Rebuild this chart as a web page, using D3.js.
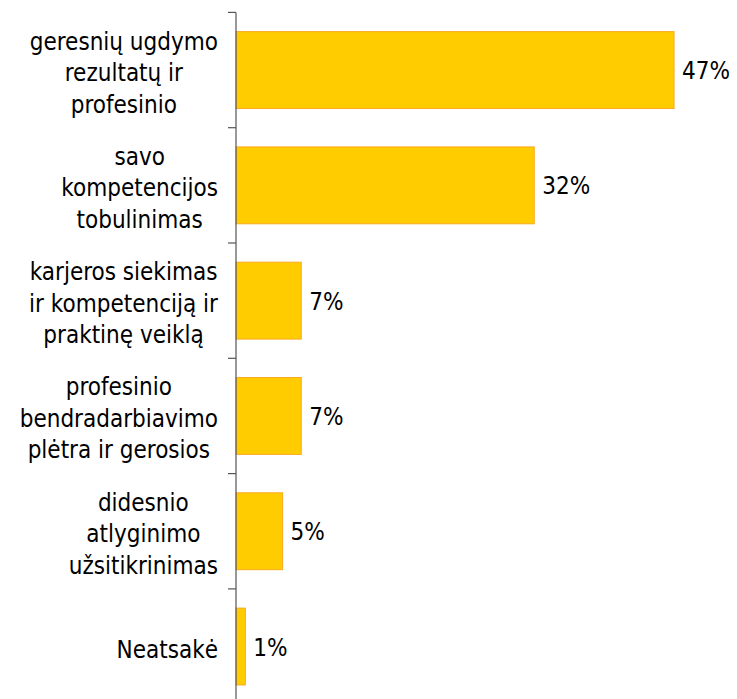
<!DOCTYPE html>
<html>
<head>
<meta charset="utf-8">
<script src="https://cdn.jsdelivr.net/npm/d3@7/dist/d3.min.js"></script>
<style>
  html, body { margin: 0; padding: 0; background: #fff; }
  svg { display: block; }
  text { font-family: "DejaVu Sans Condensed", "DejaVu Sans", sans-serif; font-stretch: condensed; fill: #000; }
</style>
</head>
<body>
<svg id="chart" width="737" height="699"></svg>
<script>
// Category labels, one entry per wrapped line
const categories = [
  ["geresnių ugdymo", "rezultatų ir", "profesinio"],
  ["savo", "kompetencijos", "tobulinimas"],
  ["karjeros siekimas", "ir kompetenciją ir", "praktinę veiklą"],
  ["profesinio", "bendradarbiavimo", "plėtra ir gerosios"],
  ["didesnio", "atlyginimo", "užsitikrinimas"],
  ["Neatsakė"]
];
// Share of respondents, %
const values = [47, 32, 7, 7, 5, 1];

const svg = d3.select("#chart");
const left = 236;
const labelRight = 218;
const fontSize = 24;
const lineGap = 31.5;

const keys = categories.map((c, i) => i);

const y = d3.scaleBand()
  .domain(keys)
  .range([12.4, 704.2])
  .paddingInner(1 / 3)
  .paddingOuter(1 / 6);

const x = d3.scaleLinear()
  .domain([0, 50])
  .range([left, left + 466]);

// Bars
svg.append("g")
  .selectAll("rect")
  .data(values)
  .join("rect")
  .attr("x", x(0))
  .attr("y", (d, i) => y(i))
  .attr("width", d => x(d) - x(0))
  .attr("height", y.bandwidth())
  .attr("fill", "#FFCC00")
  .attr("stroke", "#F9A91E")
  .attr("stroke-width", 1);

// Category axis: vertical line with ticks at band boundaries
const axis = svg.append("g").attr("stroke", "#555").attr("stroke-width", 1.2);
const boundaries = keys.map(k => y(k) - y.step() * y.paddingInner() / 2);
boundaries.push(boundaries[boundaries.length - 1] + y.step());
axis.append("line")
  .attr("x1", left).attr("x2", left)
  .attr("y1", boundaries[0]).attr("y2", boundaries[boundaries.length - 1]);
axis.selectAll("line.tick")
  .data(boundaries)
  .join("line")
  .attr("class", "tick")
  .attr("x1", left - 8).attr("x2", left)
  .attr("y1", d => d).attr("y2", d => d);

// Category labels: each block sits against the axis, lines centred within it
const labels = svg.append("g");
categories.forEach((lines, i) => {
  const cy = y(i) + y.bandwidth() / 2;
  const n = lines.length;
  const t = labels.append("text")
    .attr("text-anchor", "middle")
    .attr("font-size", fontSize);
  const spans = lines.map((ln, j) => t.append("tspan")
    .attr("y", cy + (j - (n - 1) / 2) * lineGap + 11)
    .text(ln));
  const maxW = d3.max(spans, s => s.node().getComputedTextLength());
  spans.forEach(s => s.attr("x", labelRight - maxW / 2));
});

// Value labels
svg.append("g")
  .selectAll("text")
  .data(values)
  .join("text")
  .attr("x", d => x(d) + 8)
  .attr("y", (d, i) => y(i) + y.bandwidth() / 2 + 9)
  .attr("font-size", fontSize)
  .text(d => d3.format("d")(d) + "%");
</script>
</body>
</html>
